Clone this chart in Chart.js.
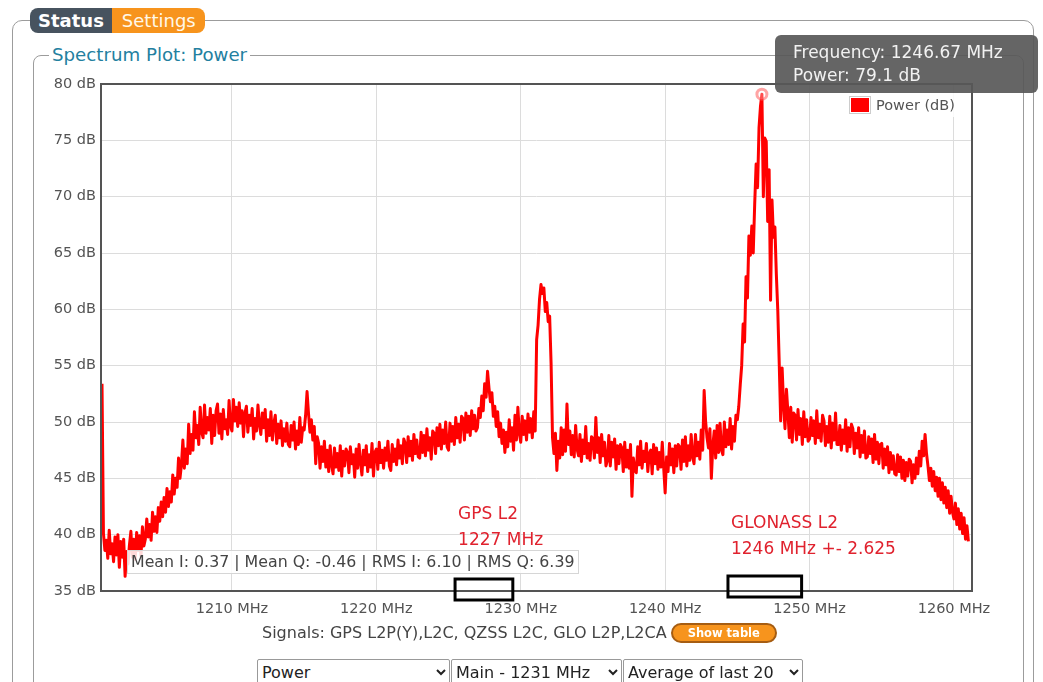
<!DOCTYPE html>
<html>
<head>
<meta charset="utf-8">
<script src="https://cdn.jsdelivr.net/npm/chart.js@4.4.1/dist/chart.umd.min.js"></script>
<style>
  body { margin: 0; background: #fff; font-family: "DejaVu Sans", sans-serif; overflow: hidden; }
  .abs { position: absolute; }
  #outer { left: 12px; top: 20px; width: 1020px; height: 720px; border: 1.5px solid #9c9c9c; border-radius: 10px; }
  #inner { left: 33px; top: 55px; width: 989px; height: 700px; border: 1.5px solid #9c9c9c; border-radius: 8px; }
  #tabs { left: 30px; top: 8px; height: 25px; display: flex; font-size: 18px; line-height: 25px; }
  #tabs span { display: block; padding: 0 8px; color: #fff; }
  #tabStatus { background: #47535f; font-weight: bold; border-radius: 8px 0 0 8px; }
  #tabSettings { background: #f7941d; color: #fff8e8 !important; border-radius: 0 8px 8px 0; padding: 0 9px 0 10px !important; }
  #fsTitle { left: 49px; top: 44px; background: #fff; padding: 0 3px; color: #23809f; font-size: 18.2px; line-height: 22px; }
  #chart { left: 0; top: 0; }
  #stats { left: 127px; top: 550px; width: 447px; height: 22px; border: 1px solid #d6d6d6; background: rgba(255,255,255,0.85);
           font-size: 15.8px; line-height: 22px; color: #444; padding-left: 3px; white-space: nowrap; }
  #tip { left: 775px; top: 35px; width: 245px; height: 52px; padding: 6px 0 0 18px; background: rgba(88,88,88,0.92);
         border-radius: 6px; color: #f2f2f2; font-size: 17px; line-height: 23px; }
  #signals { left: 262px; top: 623px; font-size: 16px; color: #444; line-height: 20px; display: flex; align-items: center; white-space: nowrap; }
  #showTable { margin-left: 4px; background: #f7941d; border: 2px solid #a65d12; border-radius: 10px; color: #fff;
               font-weight: bold; font-size: 11.5px; padding: 0 15px; line-height: 16px; }
  select { position: absolute; top: 659px; height: 26px; font-family: "DejaVu Sans"; font-size: 16px; color: #222; background: #fff;
           border: 1px solid #999; border-radius: 2px; }
</style>
</head>
<body>
<div id="outer" class="abs"></div>
<div id="inner" class="abs"></div>
<div id="tabs" class="abs"><span id="tabStatus">Status</span><span id="tabSettings">Settings</span></div>
<div id="fsTitle" class="abs">Spectrum Plot: Power</div>
<canvas id="chart" class="abs" width="1043" height="682"></canvas>
<div id="stats" class="abs">Mean I: 0.37 | Mean Q: -0.46 | RMS I: 6.10 | RMS Q: 6.39</div>
<div id="tip" class="abs"></div>
<div id="signals" class="abs">Signals: GPS L2P(Y),L2C, QZSS L2C, GLO L2P,L2CA<span id="showTable">Show table</span></div>
<select style="left:257px;width:193px"><option>Power</option></select>
<select style="left:451px;width:171px"><option>Main - 1231 MHz</option></select>
<select style="left:623px;width:180px"><option>Average of last 20</option></select>
<script>
// spectrum bins: first bin and spacing (MHz)
const startMHz = 1201;
const stepMHz = 0.1;

// power per bin (dB), one row per MHz
const powerDb = [
  53.4, 40.1, 38.6, 39.5, 37.9, 40.4, 38.3, 39.2, 37.6, 39.8,
  38.2, 40.0, 37.1, 39.4, 38.0, 39.6, 36.3, 38.5, 37.4, 39.1,
  40.3, 38.0, 39.6, 37.8, 40.2, 38.6, 39.9, 38.1, 40.7, 39.0,
  39.6, 41.4, 39.8, 40.9, 39.5, 42.0, 40.3, 41.6, 40.2, 42.4,
  41.2, 42.9, 41.6, 43.3, 42.0, 44.1, 42.5, 43.8, 42.9, 45.3,
  43.6, 45.0, 44.2, 46.8, 45.0, 46.2, 48.4, 45.9, 47.6, 46.3,
  49.8, 47.2, 48.9, 47.5, 50.9, 48.6, 49.7, 48.0, 51.3, 49.1,
  48.6, 51.5, 49.0, 50.4, 49.3, 51.2, 48.1, 50.6, 48.8, 51.0,
  51.6, 49.0, 50.7, 48.5, 51.1, 49.4, 50.2, 48.9, 51.9, 49.6,
  49.2, 52.0, 50.1, 51.3, 49.6, 51.7, 49.9, 51.0, 48.7, 50.8,
  51.4, 49.1, 50.6, 49.7, 51.2, 48.5, 50.3, 49.2, 51.5, 49.8,
  48.9, 50.8, 49.5, 51.1, 48.3, 50.2, 48.8, 50.9, 48.4, 49.9,
  50.6, 48.1, 49.8, 48.6, 50.1, 47.9, 49.4, 48.3, 49.9, 48.0,
  47.8, 49.7, 48.4, 50.0, 47.6, 49.2, 48.0, 50.4, 48.2, 49.5,
  49.3, 50.6, 52.7, 50.8, 49.1, 50.2, 48.4, 49.6, 46.3, 48.7,
  48.1, 45.9, 47.8, 46.5, 48.3, 46.0, 47.5, 45.6, 47.9, 46.2,
  45.4, 47.7, 46.0, 47.2, 45.7, 47.9, 45.2, 47.4, 46.1, 47.6,
  47.3, 45.5, 47.8, 46.3, 47.1, 45.1, 47.6, 45.9, 48.0, 46.4,
  45.3, 47.5, 46.2, 47.9, 45.6, 47.1, 46.0, 48.1, 45.2, 47.3,
  47.6, 45.8, 48.2, 46.4, 47.5, 45.9, 47.7, 46.6, 48.3, 46.1,
  45.7, 48.0, 46.5, 47.6, 46.2, 48.4, 46.8, 47.9, 46.3, 48.5,
  48.1, 46.4, 48.7, 47.0, 48.3, 46.6, 48.9, 47.2, 48.4, 46.9,
  46.8, 49.1, 47.3, 48.8, 47.0, 49.4, 47.5, 48.6, 46.7, 49.2,
  49.0, 47.2, 49.5, 47.9, 49.8, 47.6, 49.3, 48.1, 50.0, 47.8,
  47.5, 49.9, 48.3, 49.6, 48.0, 50.4, 48.6, 49.8, 48.2, 50.5,
  50.3, 48.4, 50.8, 49.1, 50.5, 48.8, 51.0, 49.4, 50.6, 49.2,
  49.5, 51.2, 50.4, 52.3, 51.0, 53.4, 52.2, 54.5, 53.0, 51.8,
  52.6, 50.5, 51.4, 49.6, 50.9, 48.7, 49.9, 48.1, 49.3, 47.3,
  49.1, 47.8, 50.2, 48.3, 49.5, 47.5, 50.6, 48.4, 51.3, 49.0,
  48.2, 50.5, 48.9, 50.1, 48.4, 50.7, 49.1, 50.3, 48.6, 50.9,
  49.2, 57.3, 58.6, 60.9, 62.2, 61.4, 61.9, 59.8, 60.6, 58.9,
  59.4, 55.2, 48.6, 47.2, 49.0, 45.7, 48.3, 46.8, 49.5, 47.1,
  49.3, 47.4, 51.6, 48.0, 49.2, 47.1, 48.8, 46.9, 49.7, 47.6,
  47.0, 48.9, 46.5, 48.4, 47.2, 49.6, 46.8, 48.1, 46.6, 48.7,
  48.5, 46.8, 50.4, 47.3, 48.6, 46.4, 48.9, 47.0, 48.2, 46.1,
  46.6, 48.8, 46.1, 48.2, 46.9, 48.5, 45.8, 47.9, 46.3, 48.0,
  47.7, 45.6, 48.2, 46.0, 47.5, 45.9, 48.0, 43.4, 46.8, 45.7,
  45.5, 47.8, 46.2, 48.3, 45.9, 47.4, 46.5, 48.1, 45.6, 47.2,
  47.5, 45.4, 48.0, 46.3, 47.7, 45.8, 47.3, 46.0, 48.2, 45.9,
  43.7, 46.9, 45.6, 48.1, 46.2, 47.6, 45.5, 47.9, 46.1, 48.0,
  47.8, 45.8, 48.4, 46.5, 48.7, 46.1, 47.9, 46.6, 48.9, 46.9,
  46.3, 48.9, 47.0, 48.2, 46.7, 49.3, 47.5, 52.8, 50.1, 48.6,
  47.7, 49.4, 45.0, 47.9, 49.2, 46.8, 49.7, 47.3, 49.9, 47.5,
  47.1, 50.0, 47.8, 49.3, 48.0, 50.3, 47.6, 49.6, 48.3, 50.6,
  50.2, 51.4, 53.3, 55.0, 58.7, 57.1, 62.9, 61.0, 66.5, 64.8,
  67.4, 65.0, 69.3, 72.9, 70.8, 76.1, 78.0, 79.1, 70.0, 75.2,
  74.9, 67.8, 72.4, 60.8, 69.7, 66.4, 67.3, 63.1, 59.9, 55.2,
  50.1, 54.8, 51.6, 49.4, 52.9, 50.9, 48.6, 51.3, 48.2, 50.8,
  50.6, 48.4, 51.1, 48.9, 50.3, 48.0, 50.9, 48.7, 50.2, 48.3,
  48.5, 50.4, 48.8, 50.1, 48.1, 51.0, 48.6, 49.8, 48.3, 50.6,
  50.1, 47.9, 49.6, 48.2, 50.5, 47.7, 49.9, 48.4, 50.8, 48.0,
  48.0, 49.7, 47.5, 49.3, 48.1, 50.2, 47.4, 49.5, 47.8, 49.8,
  49.4, 47.2, 49.0, 47.7, 49.5, 46.9, 48.8, 47.3, 49.2, 46.8,
  46.9, 48.7, 47.2, 48.5, 46.4, 48.9, 46.7, 48.2, 46.3, 48.0,
  48.1, 45.9, 47.6, 46.2, 47.8, 45.5, 47.3, 45.8, 47.0, 45.4,
  45.3, 47.1, 45.6, 46.9, 45.0, 46.6, 44.8, 46.4, 45.2, 46.7,
  46.5, 44.6, 46.2, 45.0, 46.8, 45.4, 47.4, 46.1, 48.3, 47.0,
  48.9, 47.2, 46.1, 44.8, 45.9, 44.3, 45.6, 43.9, 45.1, 43.4,
  45.0, 43.1, 44.6, 42.8, 44.2, 42.4, 43.9, 41.9, 43.4, 42.0,
  41.4, 42.8, 40.9, 42.3, 40.5, 41.9, 40.1, 41.5, 39.6, 40.8,
  39.4
];

const xTicks = [1210, 1220, 1230, 1240, 1250, 1260];
const yTicks = [35, 40, 45, 50, 55, 60, 65, 70, 75, 80];

// signal bands marked under the axis
const bandNames = ["GPS L2", "GLONASS L2"];
const bandText = ["1227 MHz", "1246 MHz +- 2.625"];
const bandFrom = [1225.45, 1244.35];
const bandTo = [1229.45, 1249.45];

// hovered point shown in the tooltip
const hoverFreq = 1246.67;
const hoverPower = 79.1;

Chart.defaults.font.family = "DejaVu Sans";
Chart.defaults.font.size = 14.5;
Chart.defaults.color = "#545454";

const points = powerDb.map((v, i) => ({ x: startMHz + i * stepMHz, y: v }));
const peakIdx = powerDb.indexOf(hoverPower);

const bandStyle = [
  { boxTop: -12, lift: 38 },
  { boxTop: -15, lift: 26 },
];

const framePlugin = {
  id: "frame",
  afterDatasetsDraw(chart) {
    const { ctx, chartArea: a, scales } = chart;
    ctx.save();
    ctx.strokeStyle = "#545454";
    ctx.lineWidth = 2;
    ctx.strokeRect(a.left, a.top, a.width, a.height);

    // legend box, top right
    const lx = a.right - 121, ly = a.top + 14;
    ctx.fillStyle = "rgba(255,255,255,0.85)";
    ctx.fillRect(lx - 6, ly - 5, 118, 24);
    ctx.strokeStyle = "#ccc";
    ctx.lineWidth = 1;
    ctx.strokeRect(lx - 1.5, ly - 1.5, 21, 17);
    ctx.fillStyle = "#ff0000";
    ctx.fillRect(lx, ly, 18, 14);
    ctx.fillStyle = "#545454";
    ctx.font = "14.5px DejaVu Sans";
    ctx.textBaseline = "middle";
    ctx.fillText(chart.data.datasets[0].label, lx + 25, ly + 8);

    // signal bands
    ctx.font = "17px DejaVu Sans";
    bandNames.forEach((name, i) => {
      const x0 = scales.x.getPixelForValue(bandFrom[i]);
      const x1 = scales.x.getPixelForValue(bandTo[i]);
      const top = a.bottom + bandStyle[i].boxTop;
      ctx.strokeStyle = "#000";
      ctx.lineWidth = 3;
      ctx.strokeRect(x0, top, x1 - x0, 21);
      ctx.fillStyle = "#e0222e";
      ctx.fillText(name, x0 + 3, top - bandStyle[i].lift - 26);
      ctx.fillText(bandText[i], x0 + 3, top - bandStyle[i].lift);
    });
    ctx.restore();
  },
};

new Chart(document.getElementById("chart"), {
  type: "line",
  data: {
    datasets: [
      {
        label: "Power (dB)",
        data: points,
        borderColor: "#ff0000",
        borderWidth: 3,
        borderJoinStyle: "round",
        tension: 0,
        pointRadius: (c) => (c.dataIndex === peakIdx ? 5 : 0),
        pointBorderWidth: 3,
        pointBorderColor: "rgba(255,90,90,0.55)",
        pointBackgroundColor: "rgba(255,255,255,0.3)",
      },
    ],
  },
  options: {
    responsive: false,
    animation: false,
    layout: { padding: { left: 51, top: 84, right: 71, bottom: 61 } },
    plugins: { legend: { display: false }, tooltip: { enabled: false } },
    scales: {
      x: {
        type: "linear",
        min: 1200.93,
        max: 1261.25,
        afterBuildTicks: (s) => { s.ticks = xTicks.map((v) => ({ value: v })); },
        afterFit: (s) => { s.height = 30; },
        grid: { color: "#dcdcdc", drawTicks: false },
        border: { display: false },
        ticks: { padding: 10, callback: (v) => v + " MHz" },
      },
      y: {
        min: 35,
        max: 80,
        afterBuildTicks: (s) => { s.ticks = yTicks.map((v) => ({ value: v })); },
        afterFit: (s) => { s.width = 50; },
        grid: { color: "#dcdcdc", drawTicks: false },
        border: { display: false },
        ticks: { padding: 5, callback: (v) => v + " dB" },
      },
    },
  },
  plugins: [framePlugin],
});

document.getElementById("tip").innerHTML =
  "Frequency: " + hoverFreq.toFixed(2) + " MHz<br>Power: " + hoverPower.toFixed(1) + " dB";
</script>
</body>
</html>
